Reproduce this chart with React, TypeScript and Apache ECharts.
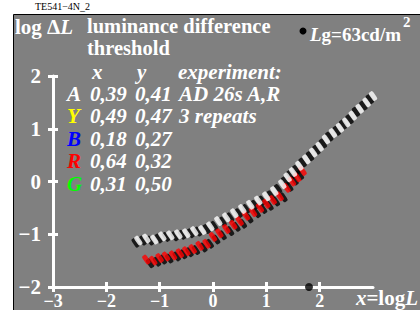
import React, { useEffect, useRef } from "react";
import * as echarts from "echarts";

const xTicks = [-3, -2, -1, 0, 1, 2];
const yTicks = [-2, -1, 0, 1, 2];

// upper band (white marks)
const whiteX = [-1.4, -1.25, -1.1, -0.95, -0.8, -0.65, -0.5, -0.35, -0.2, -0.05, 0.1, 0.25, 0.4, 0.55, 0.7, 0.85, 1.0, 1.15, 1.3, 1.4, 1.5, 1.62, 1.75, 1.88, 2.0, 2.12, 2.25, 2.38, 2.5, 2.62, 2.75, 2.88, 3.0];
const whiteY = [-1.12, -1.08, -1.1, -1.04, -1.02, -1.0, -0.98, -0.94, -0.92, -0.85, -0.75, -0.68, -0.6, -0.52, -0.44, -0.36, -0.28, -0.18, -0.05, 0.08, 0.18, 0.3, 0.42, 0.55, 0.66, 0.8, 0.92, 1.02, 1.12, 1.25, 1.38, 1.5, 1.62];

// lower band (red marks)
const redX = [-1.25, -1.12, -1.0, -0.88, -0.75, -0.62, -0.5, -0.38, -0.25, -0.12, 0.0, 0.12, 0.25, 0.38, 0.5, 0.62, 0.75, 0.88, 1.0, 1.12, 1.25, 1.38, 1.48, 1.58, 1.68];
const redY = [-1.48, -1.5, -1.45, -1.42, -1.4, -1.36, -1.32, -1.28, -1.22, -1.18, -1.05, -0.98, -0.9, -0.82, -0.75, -0.65, -0.58, -0.5, -0.42, -0.35, -0.28, -0.12, 0.0, 0.08, 0.2];

// black marks (both bands)
const blackX = [-1.45, -1.32, -1.18, -1.02, -0.88, -0.72, -0.58, -0.42, -0.28, -0.12, 0.02, 0.18, 0.32, 0.48, 0.62, 0.78, 0.92, 1.08, 1.22, 1.35, 1.45, 1.56, 1.68, 1.82, 1.94, 2.06, 2.18, 2.32, 2.44, 2.56, 2.68, 2.82, 2.94,
  -1.18, -1.05, -0.94, -0.82, -0.68, -0.56, -0.44, -0.32, -0.18, -0.06, 0.06, 0.18, 0.32, 0.44, 0.56, 0.68, 0.82, 0.94, 1.06, 1.18, 1.32, 1.43, 1.53, 1.63];
const blackY = [-1.16, -1.12, -1.12, -1.08, -1.05, -1.04, -1.01, -0.98, -0.95, -0.9, -0.84, -0.76, -0.68, -0.6, -0.52, -0.44, -0.36, -0.26, -0.14, 0.0, 0.12, 0.22, 0.36, 0.48, 0.6, 0.72, 0.85, 0.96, 1.08, 1.18, 1.32, 1.44, 1.56,
  -1.55, -1.52, -1.48, -1.46, -1.42, -1.38, -1.34, -1.3, -1.25, -1.18, -1.1, -1.02, -0.94, -0.86, -0.8, -0.7, -0.6, -0.52, -0.46, -0.38, -0.3, -0.1, 0.02, 0.12];

const adaptX = [1.8];
const adaptY = [-2];

const legendRows = [
  { key: "A", color: "#ffffff", x: "0,39", y: "0,41", note: "AD 26s A,R" },
  { key: "Y", color: "#ffff00", x: "0,49", y: "0,47", note: "3 repeats" },
  { key: "B", color: "#0000ff", x: "0,18", y: "0,27", note: "" },
  { key: "R", color: "#ff0000", x: "0,64", y: "0,32", note: "" },
  { key: "G", color: "#00ff00", x: "0,31", y: "0,50", note: "" },
];

const FONT = '"Liberation Serif", "Times New Roman", serif';

function fmt(v: number) {
  return v < 0 ? "\u2212" + Math.abs(v) : String(v);
}

export default function App() {
  const ref = useRef<HTMLDivElement>(null);
  useEffect(() => {
    if (!ref.current) return;
    const chart = echarts.init(ref.current, null, { renderer: "svg" });
    const zip = (xs: number[], ys: number[]) => xs.map((x, i) => [x, ys[i]]);

    const rs = (italic: boolean, size = 21, fill = "#ffffff") => ({
      fill,
      fontFamily: FONT,
      fontWeight: "bold",
      fontStyle: italic ? "italic" : "normal",
      fontSize: size,
    });

    const txt = (x: number, y: number, text: string, opts: any = {}) => ({
      type: "text",
      x,
      y,
      z: 10,
      style: {
        text,
        ...rs(!!opts.italic, opts.size || 21, opts.fill || "#ffffff"),
        verticalAlign: "middle",
        align: opts.align || "left",
      },
    });

    const graphics: any[] = [
      {
        type: "rect",
        z: -10,
        silent: true,
        shape: { x: 13.5, y: 14.5, width: 420, height: 310 },
        style: { fill: "#808080", stroke: "#000000", lineWidth: 1 },
      },
      {
        type: "text",
        x: 35,
        y: 6,
        style: { text: "TE541\u22124N_2", fill: "#000", fontFamily: FONT, fontSize: 10, verticalAlign: "middle" },
      },
      {
        type: "text",
        x: 15,
        y: 27,
        z: 10,
        style: {
          text: "{n|log \u0394}{i|L}",
          verticalAlign: "middle",
          rich: { n: rs(false), i: rs(true) },
        },
      },
      txt(87, 26, "luminance difference", { size: 20.5 }),
      txt(87, 47.5, "threshold", { size: 20.5 }),
      { type: "circle", z: 10, shape: { cx: 303, cy: 31, r: 3.5 }, style: { fill: "#000" } },
      {
        type: "text",
        x: 310,
        y: 34,
        z: 10,
        style: {
          text: "{i|L}{n|g=63cd/m}",
          verticalAlign: "middle",
          rich: { n: rs(false, 19), i: rs(true, 19) },
        },
      },
      txt(403, 22, "2", { size: 15 }),
      txt(92, 72, "x", { italic: true }),
      txt(137, 72, "y", { italic: true }),
      txt(178, 72, "experiment:", { italic: true }),
    ];
    const rowY = [94, 116, 139, 161, 184];
    legendRows.forEach((r, i) => {
      graphics.push(txt(67, rowY[i], r.key, { italic: true, fill: r.color }));
      graphics.push(txt(90, rowY[i], r.x, { italic: true }));
      graphics.push(txt(135, rowY[i], r.y, { italic: true }));
      if (r.note) graphics.push(txt(179, rowY[i], r.note, { italic: true }));
    });
    graphics.push({
      type: "text",
      x: 418,
      y: 298,
      z: 10,
      style: {
        text: "{i|x}{n|=log}{i|L}",
        align: "right",
        verticalAlign: "middle",
        rich: { n: rs(false), i: rs(true) },
      },
    });

    const axisCommon = {
      type: "value",
      splitLine: { show: false },
    };
    const markStyle = (color: string) => ({
      type: "scatter",
      symbol: "roundRect",
      symbolSize: [5, 10],
      symbolRotate: 35,
      itemStyle: { color },
      xAxisIndex: 0,
      yAxisIndex: 0,
    });
    const tickStyle = { color: "#fff", width: 3 };
    const labelStyle = {
      color: "#fff",
      fontFamily: FONT,
      fontWeight: "bold",
      fontSize: 21,
    };

    chart.setOption({
      animation: false,
      backgroundColor: "#ffffff",
      grid: { left: 53, right: 47, top: 76, bottom: 23, outerBoundsMode: "none", containLabel: false },
      xAxis: [
        {
          ...axisCommon,
          min: -3,
          max: 3,
          interval: 1,
          position: "bottom",
          axisLine: { onZero: false, lineStyle: { color: "#fff", width: 3 } },
          axisTick: { show: true, length: 5, inside: false, customValues: xTicks, lineStyle: tickStyle },
          axisLabel: {
            customValues: xTicks,
            formatter: (v: number) => fmt(v),
            ...labelStyle,
            fontSize: 18,
            margin: 5,
          },
        },
        {
          ...axisCommon,
          min: -3,
          max: 3,
          interval: 1,
          position: "bottom",
          axisLine: { show: false, onZero: false },
          axisTick: { show: true, length: 5, inside: true, customValues: xTicks, lineStyle: tickStyle },
          axisLabel: { show: false },
        },
      ],
      yAxis: [
        {
          ...axisCommon,
          min: -2,
          max: 2,
          interval: 1,
          position: "left",
          axisLine: { onZero: false, lineStyle: { color: "#fff", width: 3 } },
          axisTick: { show: true, length: 5, inside: false, customValues: yTicks, lineStyle: tickStyle },
          axisLabel: { customValues: yTicks, formatter: (v: number) => fmt(v), ...labelStyle, margin: 12 },
        },
        {
          ...axisCommon,
          min: -2,
          max: 2,
          interval: 1,
          position: "left",
          axisLine: { show: false, onZero: false },
          axisTick: { show: true, length: 5, inside: true, customValues: yTicks, lineStyle: tickStyle },
          axisLabel: { show: false },
        },
      ],
      graphic: graphics,
      series: [
        { ...markStyle("#000000"), data: zip(blackX, blackY), z: 2 },
        { ...markStyle("#ff0000"), data: zip(redX, redY), z: 3 },
        { ...markStyle("#ffffff"), data: zip(whiteX, whiteY), z: 4 },
        {
          type: "scatter",
          symbol: "circle",
          symbolSize: 8,
          itemStyle: { color: "#000" },
          data: zip(adaptX, adaptY),
          z: 5,
        },
      ],
    });
    return () => chart.dispose();
  }, []);
  return <div ref={ref} style={{ position: "fixed", left: 0, top: 0, width: 420, height: 310 }} />;
}
